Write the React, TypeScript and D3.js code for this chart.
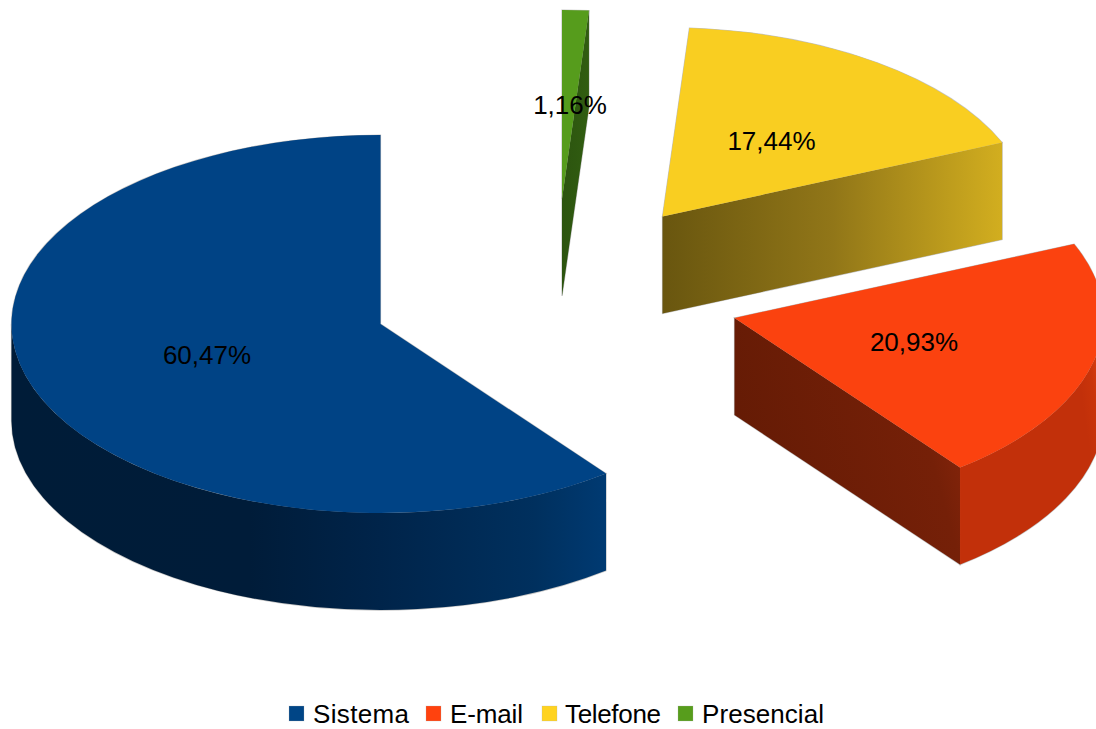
import React from "react";
import * as d3 from "d3";

const categories = ["Sistema", "E-mail", "Telefone", "Presencial"];
const counts = [52, 18, 15, 1];
const percentLabels = ["60,47%", "20,93%", "17,44%", "1,16%"];
const legendColors = ["#004586", "#ff420e", "#ffd320", "#579d1c"];
const topColors = ["#004385", "#fb420f", "#f9ce21", "#569c1c"];

const WIDTH = 1096;
const HEIGHT = 729;
const RX = 369;
const RY = 189;
const DEPTH = 97;
const centers: [number, number][] = [[380.5, 324], [734.5, 318], [662.5, 216.5], [562, 199]];
const labelPos: [number, number][] = [[207, 364], [914, 351], [771.5, 150], [570, 114]];
const legendSquareX = [289, 426, 542, 678];
const legendTextX = [313, 450, 565, 702];
const legendTextWidth = [96, 73, 96, 122];

type Stop = [number, string];
const sideStops: Stop[][] = [
  [[0, "#001c38"], [0.4, "#001c39"], [0.62, "#00244a"], [0.88, "#00305e"], [1, "#003a72"]],
  [[0, "#651b05"], [0.8, "#752008"], [0.95, "#84240a"], [1, "#84240a"]],
  [[0, "#69560f"], [0.5, "#917618"], [1, "#d2ae1f"]],
  [[0, "#2c540f"], [1, "#315d11"]],
];
const wallStops: Stop[] = [[0, "#c2300a"], [0.55, "#c9340a"], [1, "#d83e10"]];

const slices = d3.pie<number>().sort(null)(counts);

function pt(c: [number, number], a: number, z = 0): [number, number] {
  return [c[0] - RX * Math.sin(a), c[1] - RY * Math.cos(a) + z];
}
function fmt(p: [number, number]) {
  return `${p[0].toFixed(2)} ${p[1].toFixed(2)}`;
}
// a grows counter-clockwise on screen
function arcTo(p: [number, number], delta: number, sweep: 0 | 1) {
  return `A ${RX} ${RY} 0 ${delta > Math.PI ? 1 : 0} ${sweep} ${fmt(p)}`;
}
function topPath(c: [number, number], a0: number, a1: number) {
  return `M ${fmt(c)} L ${fmt(pt(c, a0))} ${arcTo(pt(c, a1), a1 - a0, 0)} Z`;
}
function wallPath(c: [number, number], a0: number, a1: number) {
  const b0 = Math.max(a0, Math.PI / 2);
  const b1 = Math.min(a1, (3 * Math.PI) / 2);
  if (b1 <= b0) return null;
  return `M ${fmt(pt(c, b0))} ${arcTo(pt(c, b1), b1 - b0, 0)} L ${fmt(pt(c, b1, DEPTH))} ${arcTo(pt(c, b0, DEPTH), b1 - b0, 1)} Z`;
}
function cutPath(c: [number, number], a: number) {
  const p = pt(c, a);
  return `M ${fmt(c)} L ${fmt(p)} L ${fmt([p[0], p[1] + DEPTH])} L ${fmt([c[0], c[1] + DEPTH])} Z`;
}

export default function App() {
  const order = [3, 2, 1, 0];
  const faces = order.map((i) => {
    const a0 = slices[i].startAngle;
    const a1 = slices[i].endAngle;
    const c = centers[i];
    return {
      i,
      c,
      a0,
      a1,
      wall: wallPath(c, a0, a1),
      cut: i === 0 ? null : cutPath(c, a0),
      top: topPath(c, a0, a1),
      cutP: pt(c, a0),
    };
  });
  return (
    <svg
      width={WIDTH}
      height={HEIGHT}
      viewBox={`0 0 ${WIDTH} ${HEIGHT}`}
      style={{ position: "absolute", left: 0, top: 0, background: "#fff" }}
      fontFamily="'Liberation Sans', Arial, sans-serif"
    >
      <defs>
        {faces.map((f) => {
          const g =
            f.i === 0
              ? { x1: f.c[0] - RX, y1: 0, x2: pt(f.c, f.a1)[0], y2: 0 }
              : f.i === 1
                ? { x1: f.c[0], y1: f.c[1] + 102, x2: f.c[0] + 216, y2: f.c[1] + 42 }
                : { x1: Math.min(f.c[0], f.cutP[0]), y1: 0, x2: Math.max(f.c[0], f.cutP[0]), y2: 0 };
          return (
            <linearGradient key={f.i} id={`side${f.i}`} gradientUnits="userSpaceOnUse" {...g}>
              {sideStops[f.i].map((s, k) => (
                <stop key={k} offset={s[0]} stopColor={s[1]} />
              ))}
            </linearGradient>
          );
        })}
        <linearGradient
          id="wall1"
          gradientUnits="userSpaceOnUse"
          x1={pt(centers[1], slices[1].endAngle)[0]}
          y1={pt(centers[1], slices[1].endAngle, DEPTH)[1]}
          x2={WIDTH}
          y2={centers[1][1] + 20}
        >
          {wallStops.map((s, k) => (
            <stop key={k} offset={s[0]} stopColor={s[1]} />
          ))}
        </linearGradient>
      </defs>
      {faces.map((f) => (
        <g key={f.i}>
          <g fill="#b3b3b3" stroke="#b3b3b3" strokeWidth={1.2} strokeOpacity={0.75}>
            {f.cut && <path d={f.cut} />}
            {f.wall && <path d={f.wall} />}
            <path d={f.top} />
          </g>
          {f.cut && <path d={f.cut} fill={`url(#side${f.i})`} />}
          {f.wall && <path d={f.wall} fill={f.i === 0 ? "url(#side0)" : "url(#wall1)"} />}
          <path d={f.top} fill={topColors[f.i]} />
        </g>
      ))}
      {percentLabels.map((t, i) => (
        <text key={t} x={labelPos[i][0]} y={labelPos[i][1]} textAnchor="middle" fontSize={26} fill="#000">
          {t}
        </text>
      ))}
      {categories.map((t, i) => (
        <g key={t}>
          <rect x={legendSquareX[i]} y={706} width={15} height={15} fill={legendColors[i]} stroke="#b3b3b3" strokeOpacity={0.5} strokeWidth={0.5} />
          <text x={legendTextX[i]} y={723} fontSize={26} fill="#000" textLength={legendTextWidth[i]} lengthAdjust="spacing">
            {t}
          </text>
        </g>
      ))}
    </svg>
  );
}
